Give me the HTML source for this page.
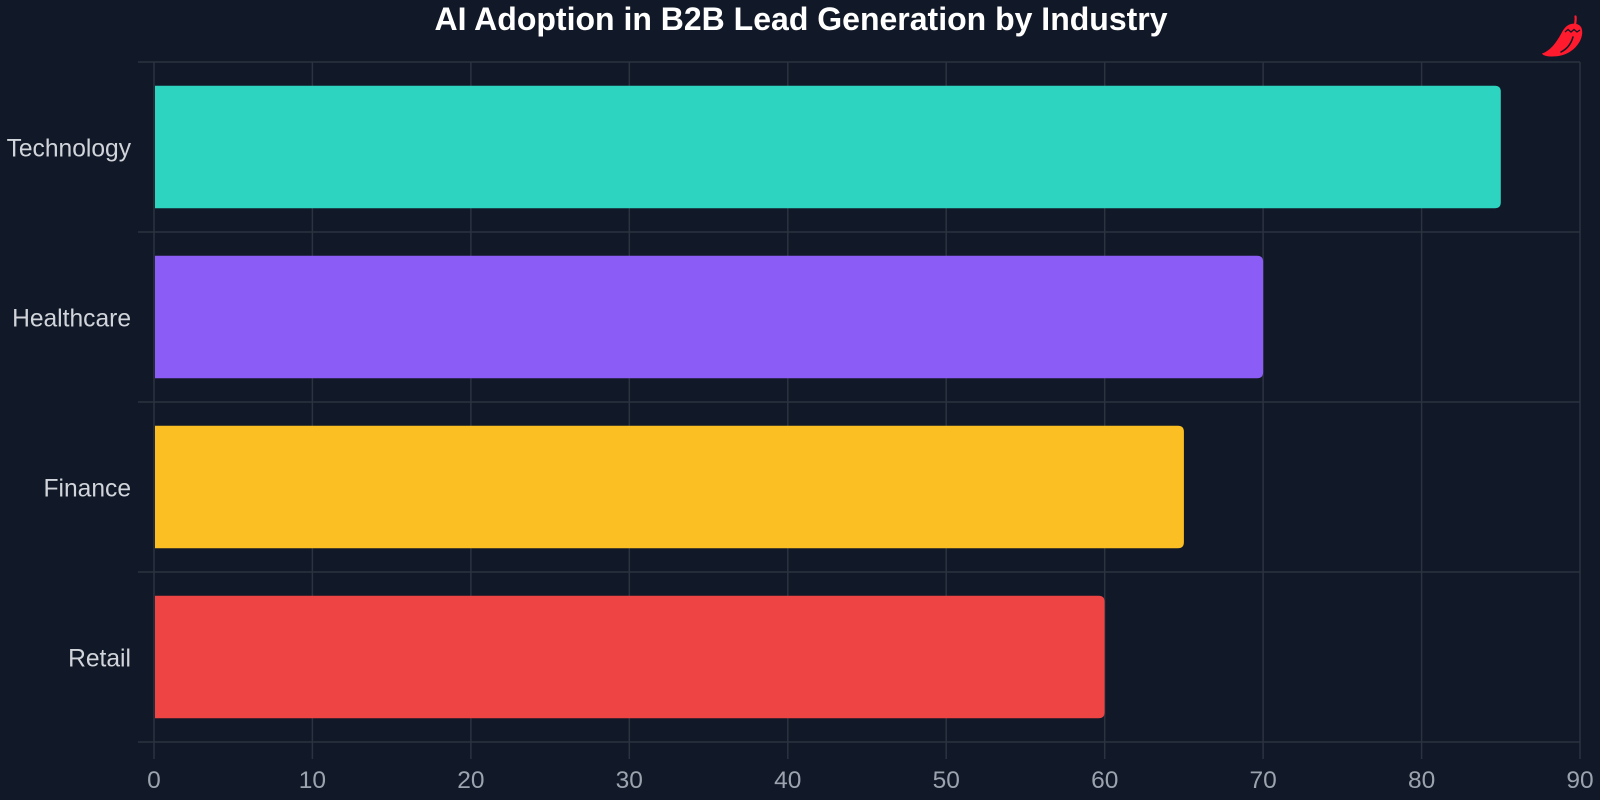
<!DOCTYPE html>
<html>
<head>
<meta charset="utf-8">
<style>
  html, body { margin: 0; padding: 0; background: #111827; }
  body { width: 1600px; height: 800px; overflow: hidden; }
  svg { display: block; }
  text { font-family: "Liberation Sans", "DejaVu Sans", sans-serif; }
</style>
</head>
<body>
<svg width="1600" height="800" viewBox="0 0 1600 800" xmlns="http://www.w3.org/2000/svg">
  <rect x="0" y="0" width="1600" height="800" fill="#111827"/>

  <!-- Title -->
  <text x="801" y="30" text-anchor="middle" font-size="32" font-weight="bold" fill="#ffffff">AI Adoption in B2B Lead Generation by Industry</text>

  <!-- Grid: horizontal lines -->
  <g stroke="#2b3240" stroke-width="1.5" fill="none">
    <line x1="138" y1="62" x2="1580" y2="62"/>
    <line x1="138" y1="232" x2="1580" y2="232"/>
    <line x1="138" y1="402" x2="1580" y2="402"/>
    <line x1="138" y1="572" x2="1580" y2="572"/>
    <line x1="138" y1="742" x2="1580" y2="742"/>
  </g>
  <!-- Grid: vertical lines -->
  <g stroke="#2b3240" stroke-width="1.5" fill="none">
    <line x1="154" y1="62" x2="154" y2="759"/>
    <line x1="312.4" y1="62" x2="312.4" y2="759"/>
    <line x1="470.9" y1="62" x2="470.9" y2="759"/>
    <line x1="629.3" y1="62" x2="629.3" y2="759"/>
    <line x1="787.8" y1="62" x2="787.8" y2="759"/>
    <line x1="946.2" y1="62" x2="946.2" y2="759"/>
    <line x1="1104.7" y1="62" x2="1104.7" y2="759"/>
    <line x1="1263.1" y1="62" x2="1263.1" y2="759"/>
    <line x1="1421.6" y1="62" x2="1421.6" y2="759"/>
    <line x1="1580" y1="62" x2="1580" y2="759"/>
  </g>

  <!-- Bars -->
  <path d="M155,85.8 H1494.8 Q1500.8,85.8 1500.8,91.8 V202.2 Q1500.8,208.2 1494.8,208.2 H155 Z" fill="#2dd4bf"/>
  <path d="M155,255.8 H1257.1 Q1263.1,255.8 1263.1,261.8 V372.2 Q1263.1,378.2 1257.1,378.2 H155 Z" fill="#8b5cf6"/>
  <path d="M155,425.8 H1177.9 Q1183.9,425.8 1183.9,431.8 V542.2 Q1183.9,548.2 1177.9,548.2 H155 Z" fill="#fbbf24"/>
  <path d="M155,595.8 H1098.6 Q1104.6,595.8 1104.6,601.8 V712.2 Q1104.6,718.2 1098.6,718.2 H155 Z" fill="#ef4444"/>

  <!-- Y labels -->
  <g font-size="24.6" fill="#d1d5db" text-anchor="end">
    <text x="131" y="156.5">Technology</text>
    <text x="131" y="326.5">Healthcare</text>
    <text x="131" y="496.5">Finance</text>
    <text x="131" y="666.5">Retail</text>
  </g>

  <!-- X labels -->
  <g font-size="24.5" fill="#9ca3af" text-anchor="middle">
    <text x="154" y="788">0</text>
    <text x="312.4" y="788">10</text>
    <text x="470.9" y="788">20</text>
    <text x="629.3" y="788">30</text>
    <text x="787.8" y="788">40</text>
    <text x="946.2" y="788">50</text>
    <text x="1104.7" y="788">60</text>
    <text x="1263.1" y="788">70</text>
    <text x="1421.6" y="788">80</text>
    <text x="1580" y="788">90</text>
  </g>

  <!-- Chili logo -->
  <g>
    <path d="M1575,25 C1575.5,21 1576,19 1575.5,16.5" stroke="#ff1a2e" stroke-width="2.2" fill="none" stroke-linecap="round"/>
    <path d="M1542,53.5 C1550,51 1556,43 1561,34 C1564,28 1567,25 1571,24 C1575,23 1579,24 1581,27 C1583,31 1582.5,36 1580,41 C1575,50 1566,56.5 1552,56.5 C1547,56.5 1543,55.5 1542,53.5 Z" fill="#ff1a2e"/>
    <path d="M1565,32 L1568,29.5 L1571,32 L1574,29.5 L1577,32 L1580,30" stroke="#111827" stroke-width="1.3" fill="none"/>
    <path d="M1573,37 C1571,44 1567,49 1561,52" stroke="#111827" stroke-width="1.5" fill="none" stroke-linecap="round"/>
  </g>
</svg>
</body>
</html>
